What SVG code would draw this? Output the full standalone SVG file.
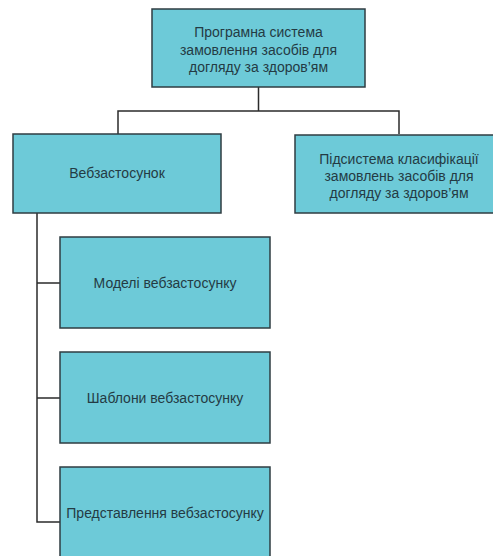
<svg xmlns="http://www.w3.org/2000/svg" width="493" height="556" viewBox="0 0 493 556">
<style>
.box{fill:#6dcad8;stroke:#2f3d42;stroke-width:1.5}
.t{font-family:"Liberation Sans",Arial,sans-serif;font-size:14px;fill:#243b44;text-anchor:middle}
.c{fill:none;stroke:#2b2b2b;stroke-width:1.5}
</style>
<rect width="493" height="556" fill="#ffffff"/>
<g id="connectors">
<path class="c" d="M258.5,87 V111 M118,134 V111 H399 V134"/>
<path class="c" d="M37,213 V522 H60 M37,283 H60 M37,398 H60"/>
</g>
<g id="root">
<rect class="box" x="152" y="9" width="213" height="78"/>
<text class="t" x="258.5" y="37">Програмна система</text>
<text class="t" x="258.5" y="55">замовлення засобів для</text>
<text class="t" x="258.5" y="72">догляду за здоров’ям</text>
</g>
<g id="web">
<rect class="box" x="13" y="134" width="208" height="79"/>
<text class="t" x="117" y="178">Вебзастосунок</text>
</g>
<g id="sub">
<rect class="box" x="295" y="135" width="208" height="78"/>
<text class="t" x="399" y="164">Підсистема класифікації</text>
<text class="t" x="399" y="181">замовлень засобів для</text>
<text class="t" x="399" y="198">догляду за здоров’ям</text>
</g>
<g id="models">
<rect class="box" x="60" y="237" width="210" height="91"/>
<text class="t" x="165" y="288">Моделі вебзастосунку</text>
</g>
<g id="templates">
<rect class="box" x="60" y="352" width="210" height="91"/>
<text class="t" x="165" y="403">Шаблони вебзастосунку</text>
</g>
<g id="views">
<rect class="box" x="60" y="467" width="210" height="95"/>
<text class="t" x="165" y="518">Представлення вебзастосунку</text>
</g>
</svg>
